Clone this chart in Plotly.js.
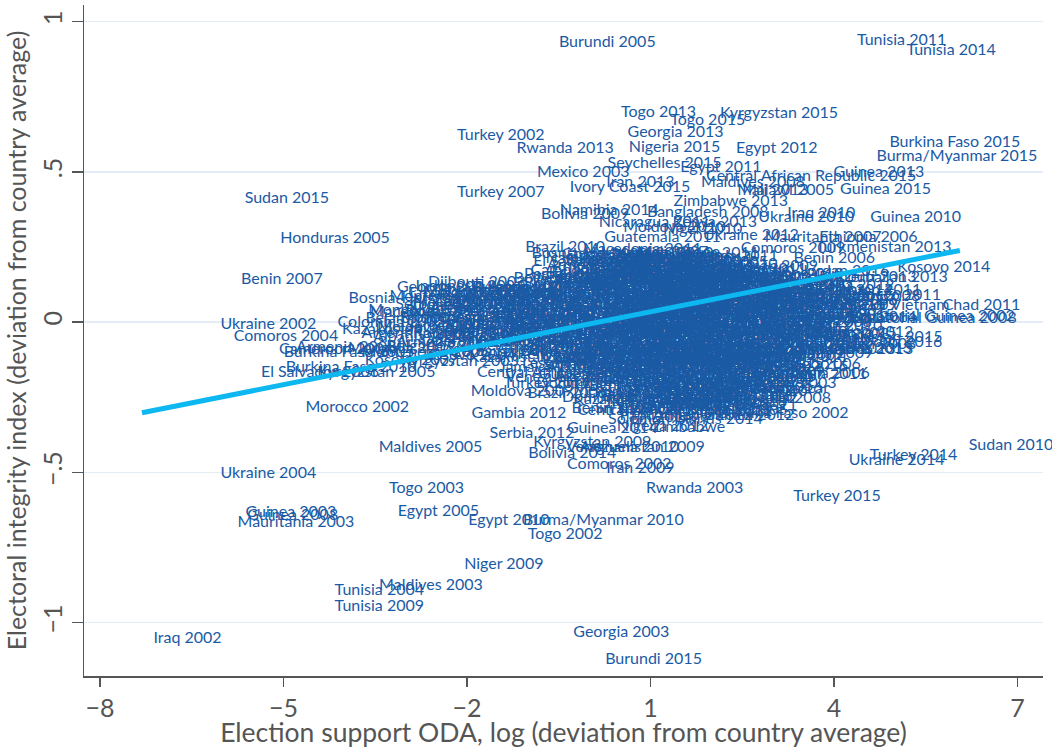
<!DOCTYPE html>
<html>
<head>
<meta charset="utf-8">
<script src="https://cdn.plot.ly/plotly-3.0.1.min.js"></script>
<style>
  html, body { margin: 0; padding: 0; background: #fff; }
  #chart { width: 1052px; height: 748px; }
</style>
</head>
<body>
<div id="chart"></div>
<script>
// Country-election observations: x = election support ODA (log, deviation from country mean),
// y = electoral integrity index (deviation from country mean).

// Isolated observations
const outerLabels = [
  "Burundi 2005", "Tunisia 2011", "Tunisia 2014", "Kyrgyzstan 2015", "Togo 2013",
  "Togo 2015", "Georgia 2013", "Turkey 2002", "Rwanda 2013", "Nigeria 2015",
  "Egypt 2012", "Burkina Faso 2015", "Burma/Myanmar 2015", "Seychelles 2015", "Mexico 2003",
  "Iran 2013", "Ivory Coast 2015", "Turkey 2007", "Sudan 2015", "Honduras 2005",
  "Benin 2007", "Ukraine 2002", "Comoros 2004", "Morocco 2002", "Maldives 2005",
  "Ukraine 2004", "Togo 2003", "Guinea 2003", "Guinea 2008", "Mauritania 2003",
  "Egypt 2005", "Egypt 2010", "Burma/Myanmar 2010", "Togo 2002", "Niger 2009",
  "Maldives 2003", "Tunisia 2004", "Tunisia 2009", "Iraq 2002", "Georgia 2003",
  "Burundi 2015", "Rwanda 2003", "Turkey 2015", "Ukraine 2014", "Turkey 2014",
  "Sudan 2010", "Benin 2011", "Gambia 2012", "Guinea 2010", "Guinea 2015",
  "Guinea 2013"
];
const outerX = [
  0.292, 5.103, 5.913, 3.100, 1.130,
  1.934, 1.409, -1.448, -0.397, 1.392,
  3.062, 5.974, 6.007, 1.228, -0.102,
  0.834, 0.662, -1.448, -4.946, -4.158,
  -5.028, -5.250, -4.962, -3.796, -2.598,
  -5.250, -2.663, -4.880, -4.850, -4.798,
  -2.470, -1.317, 0.227, -0.397, -1.400,
  -2.590, -3.435, -3.435, -6.571, 0.522,
  1.048, 1.720, 4.046, 5.021, 5.300,
  6.893, 3.872, -1.153, 5.333, 4.841,
  4.731
];
const outerY = [
  0.928, 0.934, 0.901, 0.691, 0.695,
  0.668, 0.629, 0.618, 0.575, 0.578,
  0.575, 0.595, 0.549, 0.525, 0.495,
  0.462, 0.445, 0.429, 0.410, 0.275,
  0.139, -0.010, -0.050, -0.285, -0.418,
  -0.506, -0.555, -0.636, -0.646, -0.669,
  -0.632, -0.662, -0.662, -0.708, -0.808,
  -0.877, -0.894, -0.947, -1.054, -1.034,
  -1.124, -0.555, -0.582, -0.462, -0.445,
  -0.412, -0.176, -0.306, 0.346, 0.438,
  0.495
];

// Observations along the edge of the main cluster
const edgeLabels = [
  "Namibia 2014", "Bolivia 2009", "Bangladesh 2008", "Zimbabwe 2013", "Nicaragua 2011",
  "Kenya 2013", "Moldova 2010", "Niger 2010", "Ukraine 2010", "Iraq 2010",
  "Guatemala 2011", "Ukraine 2012", "Brazil 2010", "Macedonia 2011", "Comoros 2009",
  "Bosnia-Herzegovina 2010", "El Salvador 2009", "Venezuela 2005", "Djibouti 2003", "Indonesia 2004",
  "Montenegro 2009", "Mongolia 2004", "Colombia 2002", "Argentina 2003", "Kosovo 2007",
  "Cameroon 2004", "Burkina Faso 2005", "Burkina Faso 2010", "El Salvador 2006", "Kyrgyzstan 2005",
  "Armenia 2003", "Mongolia 2005", "Jamaica 2007", "Turkey 2011", "Moldova 2009",
  "Brazil 2006", "Dominican Republic 2008", "Venezuela 2012", "Benin 2003", "Central African Republic 2005",
  "Armenia 2012", "Burkina Faso 2002", "Zambia 2011", "Mongolia 2008", "Madagascar",
  "Honduras", "Zimbabwe", "Nigeria 2012", "Guinea 2014", "Serbia 2012",
  "Kyrgyzstan 2009", "Venezuela 2010", "Afghanistan 2009", "Bolivia 2014", "Comoros 2002",
  "Iran 2009", "Kosovo 2014", "Azerbaijan 2013", "Turkmenistan 2013", "Mauritania 2007",
  "Ethiopia 2006", "Benin 2006", "Afghanistan 2014", "Tajikistan 2011", "Chad 2011",
  "Socialist Republic of Vietnam", "Equatorial Guinea 2008", "Equatorial Guinea 2002", "Georgia 2012", "Djibouti 2016",
  "Kosovo 2013", "Honduras 2013", "Ghana 2002", "Egypt 2011", "Maldives 2008",
  "Mali 2013", "Malawi 2005", "Central African Republic 2015"
];
const edgeX = [
  0.325, -0.069, 1.934, 2.312, 1.064,
  2.050, 1.390, 1.850, 3.544, 3.790,
  1.195, 2.640, -0.397, 0.867, 3.330,
  0.540, 0.046, -0.036, -1.842, -1.957,
  -2.220, -2.745, -3.238, -2.827, -2.910,
  -4.141, -3.928, -3.895, -4.404, -3.484,
  -3.977, -3.074, -0.693, -0.690, -1.103,
  -0.364, 1.030, -0.447, 0.374, 1.520,
  1.852, 3.166, 2.640, 3.080, 3.230,
  3.117, 1.620, 1.195, 0.374, -0.939,
  0.046, 0.540, 0.867, -0.280, 0.489,
  0.834, 5.793, 4.920, 4.810, 3.820,
  4.560, 4.003, 3.940, 4.560, 6.410,
  4.230, 5.630, 5.600, 4.510, 4.970,
  4.510, 4.400, 2.670, 2.148, 2.673,
  3.000, 3.248, 3.626
];
const edgeY = [
  0.369, 0.356, 0.362, 0.399, 0.329,
  0.329, 0.313, 0.305, 0.346, 0.359,
  0.279, 0.286, 0.246, 0.240, 0.243,
  0.226, 0.200, 0.140, 0.130, 0.116,
  0.083, 0.037, -0.003, -0.040, -0.130,
  -0.093, -0.103, -0.153, -0.170, -0.170,
  -0.086, -0.090, -0.153, -0.206, -0.233,
  -0.239, -0.253, -0.186, -0.289, -0.296,
  -0.312, -0.306, -0.279, -0.256, -0.223,
  -0.186, -0.352, -0.349, -0.356, -0.372,
  -0.402, -0.419, -0.419, -0.439, -0.475,
  -0.489, 0.180, 0.146, 0.246, 0.279,
  0.279, 0.209, 0.103, 0.103, 0.053,
  0.053, 0.010, 0.017, -0.037, -0.070,
  -0.090, -0.093, -0.120, 0.512, 0.462,
  0.435, 0.435, 0.482
];

// Observations inside the main cluster
const coreLabels = [
  "Ghana 2008", "Kenya 2007", "Malawi 2014", "Zambia 2006", "Nepal 2008", "Haiti 2006", "Liberia 2011", "Uganda 2011", "Peru 2006", "Mali 2007",
  "Armenia 2008", "Senegal 2012", "Georgia 2008", "Kosovo 2010", "Lebanon 2009", "Tanzania 2010", "Angola 2012", "Ethiopia 2010", "Guinea-Bissau 2009", "Cambodia 2008",
  "Paraguay 2008", "Ecuador 2006", "Sierra Leone 2007", "Mozambique 2009", "Philippines 2010", "Indonesia 2009", "Pakistan 2008", "Bangladesh 2014", "Sri Lanka 2010", "Albania 2009", "Azerbaijan 2010",
  "Bolivia 2005", "Peru 2011", "Honduras 2009", "Nicaragua 2008", "Guatemala 2007", "Ghana 2012", "Kenya 2005", "Malawi 2009", "Zambia 2008", "Niger 2011", "Chad 2006", "Yemen 2006",
  "Colombia 2006", "Mexico 2006", "Dominican Republic 2012", "Haiti 2010", "Jordan 2010", "Lebanon 2005", "Palestine 2006", "Iraq 2005", "Afghanistan 2005", "Nepal 2013", "Timor-Leste 2007", "Mongolia 2012", "Tajikistan 2006",
  "Costa Rica 2006", "Panama 2009", "Ecuador 2009", "Senegal 2007", "Cape Verde 2011", "Gabon 2009", "Congo 2009", "DR Congo 2011", "Cameroon 2011", "Ethiopia 2015", "Uganda 2006", "Tanzania 2015", "Burundi 2010", "Rwanda 2008", "Madagascar 2006",
  "Argentina 2007", "Brazil 2002", "Guyana 2006", "Jamaica 2011", "Peru 2016", "Paraguay 2013", "Honduras 2012", "Guatemala 2015", "Nicaragua 2016", "El Salvador 2014", "Belarus 2006", "Armenia 2007", "Azerbaijan 2005", "Kazakhstan 2005", "Kyrgyzstan 2007",
  "Indonesia 2014", "Philippines 2007", "Cambodia 2013", "Sri Lanka 2005", "Pakistan 2013", "India 2009", "Mongolia 2009", "Maldives 2014", "Bhutan 2008", "Timor-Leste 2012", "Solomon Islands 2010", "Fiji 2006", "Papua New Guinea 2007", "Vanuatu 2008", "Tonga 2010", "Samoa 2011",
  "Albania 2005", "Macedonia 2008", "Serbia 2008", "Montenegro 2012", "Bosnia-Herzegovina 2014", "Moldova 2014", "Ukraine 2006", "Belarus 2010", "Georgia 2016", "Armenia 2013", "Azerbaijan 2008", "Kazakhstan 2012", "Uzbekistan 2009", "Tajikistan 2013", "Kyrgyzstan 2010",
  "Morocco 2007", "Algeria 2009", "Algeria 2004", "Egypt 2014", "Libya 2012", "Jordan 2013", "Yemen 2012", "Iraq 2014", "Iran 2005", "Syria 2012", "Palestine 2005", "Lebanon 2010", "Mauritania 2009", "Mauritania 2014", "Djibouti 2008",
  "Benin 2015", "Togo 2007", "Ghana 2016", "Ivory Coast 2010", "Liberia 2005", "Sierra Leone 2012", "Gambia 2006", "Senegal 2014", "Mali 2002", "Burkina Faso 2012", "Niger 2004", "Nigeria 2007", "Cameroon 2007", "Chad 2016",
  "Kenya 2002", "Uganda 2016", "Tanzania 2005", "Rwanda 2010", "Ethiopia 2005", "Malawi 2004", "Zambia 2015", "Zimbabwe 2005", "Mozambique 2004", "Angola 2008", "Namibia 2009", "Botswana 2009",
  "Lesotho 2012", "Swaziland 2013", "Madagascar 2013", "Comoros 2010", "Mauritius 2014", "Seychelles 2011", "Cape Verde 2016", "Sao Tome 2010", "Gabon 2016", "Congo 2015", "DR Congo 2006",
  "Central African Republic 2011", "Guinea-Bissau 2005", "Liberia 2014", "Niger 2016", "Nigeria 2003", "Togo 2010", "Benin 2016", "Ghana 2004", "Gambia 2011", "Mali 2009", "Mauritania 2006",
  "Haiti 2015", "Dominican Republic 2016", "Guatemala 2003", "Nicaragua 2006", "Ecuador 2013", "Colombia 2010", "Venezuela 2015", "Bolivia 2006", "Paraguay 2003",
  "Mexico 2012", "Panama 2014", "Costa Rica 2010", "El Salvador 2012", "Belize 2008", "Guyana 2015", "Suriname 2010", "Jamaica 2016",
  "Kazakhstan 2007", "Tajikistan 2010", "Uzbekistan 2014", "Mongolia 2016", "Afghanistan 2010", "Pakistan 2002",
  "Sri Lanka 2015", "Maldives 2013", "Bhutan 2013", "Cambodia 2003", "Laos 2011",
  "Fiji 2014", "Solomon Islands 2014", "Papua New Guinea 2012",
  "Bosnia-Herzegovina 2002", "Macedonia 2002", "Serbia 2003", "Albania 2013", "Croatia 2003", "Romania 2004", "Bulgaria 2005", "Moldova 2005", "Georgia 2004", "Azerbaijan 2003", "Belarus 2004", "Kazakhstan 2004", "Montenegro 2006", "Kosovo 2004",
  "Algeria 2012", "Iraq 2009", "Libya 2014", "Egypt 2015", "Yemen 2003", "Jordan 2016", "Morocco 2011", "Mauritania 2013", "Djibouti 2013", "Tajikistan 2015", "Uzbekistan 2015", "Turkmenistan 2008",
  "Liberia 2009", "Sierra Leone 2002", "Guinea 2005", "Gambia 2016", "Senegal 2002", "Mali 2016", "Niger 2015", "Nigeria 2009", "Cameroon 2013", "Gabon 2006",
  "Congo 2012", "Angola 2016", "Zambia 2013", "Malawi 2011", "Mozambique 2014", "Tanzania 2012", "Kenya 2010", "Uganda 2008", "Ethiopia 2013", "Somalia 2016"
];
const coreX = [
  0.25, 0.61, 0.93, 1.18, 1.47, 1.72, 2.05, 2.31, 0.44, 1.36,
  0.12, 0.48, 0.77, 1.09, 1.41, 1.66, 1.98, 2.27, 2.58, 0.95,
  -0.21, 0.18, 0.55, 0.86, 1.22, 1.53, 1.87, 2.14, 2.49, 2.83, 3.21,
  -0.35, 0.03, 0.39, 0.71, 1.04, 1.33, 1.69, 2.02, 2.37, 2.71, 3.05, 3.39,
  -0.62, -0.18, 0.27, 0.62, 0.97, 1.29, 1.58, 1.91, 2.24, 2.61, 2.96, 3.33, 3.66,
  -1.52, -1.05, -0.47, 0.08, 0.45, 0.81, 1.13, 1.49, 1.83, 2.16, 2.52, 2.88, 3.27, 3.71, 4.02,
  -1.71, -1.22, -0.78, -0.31, 0.21, 0.58, 0.92, 1.25, 1.61, 1.95, 2.33, 2.67, 3.04, 3.46, 3.88,
  -1.95, -1.38, -0.93, -0.52, -0.07, 0.36, 0.74, 1.08, 1.42, 1.77, 2.11, 2.46, 2.83, 3.22, 3.61, 4.06,
  -1.61, -1.13, -0.66, -0.22, 0.19, 0.55, 0.89, 1.26, 1.58, 1.93, 2.29, 2.64, 3.01, 3.39, 3.82,
  -1.42, -0.87, -0.38, 0.05, 0.42, 0.79, 1.15, 1.51, 1.86, 2.19, 2.56, 2.93, 3.31, 3.72, 4.11,
  -1.18, -0.64, -0.15, 0.31, 0.68, 1.02, 1.37, 1.71, 2.07, 2.42, 2.78, 3.14, 3.55, 3.93,
  -0.49, -0.02, 0.44, 0.83, 1.19, 1.55, 1.89, 2.25, 2.61, 2.97, 3.36, 3.74,
  -0.31, 0.14, 0.57, 0.95, 1.31, 1.66, 2.01, 2.38, 2.74, 3.12, 3.51,
  -0.12, 0.33, 0.71, 1.09, 1.44, 1.79, 2.15, 2.52, 2.88, 3.27, 3.63,
  0.22, 0.61, 0.98, 1.35, 1.69, 2.06, 2.43, 2.81, 3.18,
  0.49, 0.87, 1.24, 1.58, 1.94, 2.31, 2.69, 3.02,
  0.73, 1.11, 1.46, 1.83, 2.21, 2.58,
  0.95, 1.32, 1.68, 2.04, 2.39,
  1.18, 1.57, 1.92,
  -2.45, -2.62, -2.31, -2.77, -2.18, -2.05, -2.52, -1.88, -2.36, -1.74, -2.90, -3.05, -2.68, -1.96,
  4.25, 4.48, 4.71, 4.36, 4.62, 4.18, 4.90, 4.05, 4.55, 4.12, 4.80, 4.30,
  0.66, 1.01, 1.38, 1.74, 2.12, 0.83, 1.19, 1.57, 1.93, 2.28,
  0.52, 0.94, 1.31, 1.69, 2.04, 0.71, 1.12, 1.48, 1.86, 2.22
];
const coreY = [
  0.224, 0.215, 0.228, 0.212, 0.221, 0.209, 0.226, 0.218, 0.205, 0.231,
  0.188, 0.196, 0.182, 0.193, 0.185, 0.199, 0.179, 0.191, 0.184, 0.176,
  0.158, 0.165, 0.152, 0.161, 0.149, 0.167, 0.155, 0.146, 0.162, 0.151, 0.157,
  0.128, 0.135, 0.122, 0.131, 0.126, 0.138, 0.119, 0.133, 0.124, 0.137, 0.121, 0.129,
  0.098, 0.104, 0.092, 0.107, 0.095, 0.101, 0.089, 0.106, 0.094, 0.099, 0.091, 0.103, 0.096,
  0.072, 0.065, 0.078, 0.069, 0.074, 0.061, 0.077, 0.066, 0.071, 0.063, 0.079, 0.068, 0.073, 0.064, 0.070,
  0.042, 0.036, 0.047, 0.031, 0.044, 0.038, 0.049, 0.033, 0.041, 0.035, 0.046, 0.039, 0.032, 0.045, 0.037,
  0.012, 0.004, 0.017, 0.008, 0.014, 0.002, 0.011, 0.019, 0.006, 0.013, 0.001, 0.016, 0.009, 0.015, 0.003, 0.010,
  -0.018, -0.026, -0.014, -0.022, -0.029, -0.016, -0.024, -0.012, -0.027, -0.019, -0.023, -0.015, -0.028, -0.021, -0.017,
  -0.048, -0.055, -0.043, -0.052, -0.046, -0.058, -0.041, -0.053, -0.049, -0.056, -0.044, -0.051, -0.047, -0.054, -0.042,
  -0.078, -0.085, -0.074, -0.082, -0.088, -0.076, -0.084, -0.079, -0.087, -0.073, -0.081, -0.086, -0.077, -0.083,
  -0.108, -0.115, -0.104, -0.112, -0.118, -0.106, -0.113, -0.102, -0.117, -0.109, -0.114, -0.105,
  -0.138, -0.145, -0.134, -0.142, -0.148, -0.136, -0.144, -0.132, -0.147, -0.139, -0.143,
  -0.168, -0.175, -0.163, -0.172, -0.178, -0.166, -0.174, -0.161, -0.177, -0.169, -0.173,
  -0.198, -0.205, -0.193, -0.202, -0.208, -0.196, -0.204, -0.191, -0.207,
  -0.228, -0.236, -0.224, -0.233, -0.239, -0.226, -0.234, -0.222,
  -0.258, -0.265, -0.254, -0.262, -0.268, -0.256,
  -0.288, -0.295, -0.284, -0.292, -0.298,
  -0.318, -0.325, -0.314,
  0.078, 0.031, -0.012, -0.054, 0.052, -0.038, -0.083, 0.098, 0.113, -0.067, 0.009, -0.027, -0.104, -0.112,
  0.121, 0.052, 0.014, -0.038, -0.076, 0.168, 0.087, -0.094, 0.146, 0.019, -0.052, 0.084,
  0.142, 0.117, 0.138, 0.112, 0.143, 0.057, 0.083, 0.052, 0.086, 0.054,
  -0.003, -0.037, 0.023, -0.033, 0.026, -0.094, -0.127, -0.098, -0.129, -0.091
];

// Further observations in the dense centre of the cluster
const fillLabels = [
  "Senegal 2009", "Ghana 2006", "Liberia 2016", "Guinea 2007", "Zambia 2010", "Uganda 2014", "Angola 2005", "Namibia 2004",
  "Cambodia 2007", "Nepal 2006", "Laos 2006", "Pakistan 2005", "Indonesia 2005", "Philippines 2013", "Bangladesh 2006", "India 2014", "Sri Lanka 2012", "Vietnam 2011",
  "Bolivia 2011", "Peru 2010", "Ecuador 2014", "Colombia 2014", "Guatemala 2012", "Honduras 2010", "Nicaragua 2012", "Haiti 2009", "El Salvador 2015", "Panama 2004", "Costa Rica 2014", "Paraguay 2016",
  "Jamaica 2005", "Guyana 2011", "Brazil 2014", "Argentina 2011", "Mexico 2009", "Dominican Republic 2004", "Cuba 2008", "Venezuela 2008", "Chile 2005", "Uruguay 2004", "Suriname 2005", "Belize 2012", "Trinidad 2007",
  "Albania 2011", "Serbia 2014", "Macedonia 2014", "Montenegro 2016", "Kosovo 2011", "Bosnia-Herzegovina 2006", "Moldova 2011", "Ukraine 2008", "Belarus 2012", "Georgia 2010", "Armenia 2009", "Azerbaijan 2013", "Kazakhstan 2011", "Kyrgyzstan 2012", "Tajikistan 2005",
  "Morocco 2016", "Algeria 2007", "Tunisia 2006", "Libya 2016", "Egypt 2008", "Jordan 2007", "Lebanon 2013", "Palestine 2012", "Syria 2007", "Iraq 2006", "Iran 2008", "Yemen 2009", "Sudan 2008", "Djibouti 2005", "Mauritania 2011",
  "Benin 2009", "Togo 2012", "Ghana 2010", "Ivory Coast 2005", "Liberia 2007", "Sierra Leone 2008", "Guinea 2012", "Gambia 2008", "Senegal 2010", "Mali 2012", "Burkina Faso 2014", "Niger 2007", "Nigeria 2014", "Cameroon 2009", "Chad 2009",
  "Kenya 2016", "Uganda 2012", "Tanzania 2008", "Rwanda 2015", "Burundi 2012", "Ethiopia 2008", "Malawi 2016", "Zambia 2004", "Zimbabwe 2010", "Mozambique 2011", "Angola 2014", "Namibia 2015", "Botswana 2014", "Lesotho 2007", "Swaziland 2008",
  "Madagascar 2009", "Comoros 2015", "Mauritius 2010", "Seychelles 2007", "Cape Verde 2006", "Sao Tome 2014", "Gabon 2011", "Congo 2007", "DR Congo 2015", "Central African Republic 2009", "Equatorial Guinea 2013", "Guinea-Bissau 2012", "Liberia 2012", "Niger 2013",
  "Haiti 2012", "Dominican Republic 2010", "Guatemala 2009", "Nicaragua 2014", "Ecuador 2011", "Colombia 2012", "Venezuela 2013", "Bolivia 2016", "Paraguay 2011", "Mexico 2015", "Panama 2012", "Costa Rica 2016", "El Salvador 2010",
  "Guyana 2008", "Jamaica 2013", "Kazakhstan 2009", "Tajikistan 2016", "Uzbekistan 2007", "Mongolia 2014", "Afghanistan 2012", "Pakistan 2010", "Sri Lanka 2008", "Maldives 2011", "Bhutan 2016", "Cambodia 2010",
  "Laos 2015", "Fiji 2009", "Solomon Islands 2006", "Papua New Guinea 2016", "Vanuatu 2012", "Timor-Leste 2016", "Indonesia 2011", "Philippines 2016", "Nepal 2016", "Bangladesh 2011",
  "Albania 2015", "Serbia 2016", "Macedonia 2016", "Montenegro 2013", "Kosovo 2016", "Moldova 2016", "Ukraine 2016", "Belarus 2015", "Georgia 2014", "Armenia 2016",
  "Azerbaijan 2015", "Morocco 2013", "Algeria 2016", "Egypt 2016", "Jordan 2005", "Lebanon 2015", "Iraq 2016", "Yemen 2015",
  "Benin 2012", "Togo 2016", "Ghana 2014", "Ivory Coast 2013", "Sierra Leone 2016", "Gambia 2014", "Senegal 2005",
  "Mali 2014", "Burkina Faso 2016", "Niger 2006", "Nigeria 2016", "Cameroon 2016", "Chad 2014",
  "Kenya 2015", "Uganda 2004", "Tanzania 2014", "Rwanda 2005",
  "Croatia 2007", "Romania 2008", "Bulgaria 2009", "Serbia 2005", "Macedonia 2005", "Albania 2007", "Montenegro 2003", "Bosnia-Herzegovina 2008", "Moldova 2003", "Ukraine 2003", "Georgia 2006", "Armenia 2005", "Azerbaijan 2006", "Kazakhstan 2003", "Kyrgyzstan 2003"
];
const fillX = [
  0.38, 0.79, 1.05, 1.31, 1.58, 1.89, 2.18, 0.09,
  -0.05, 0.33, 0.66, 1.01, 1.28, 1.57, 1.81, 2.09, 2.42, 2.73,
  -0.52, -0.12, 0.29, 0.63, 0.94, 1.27, 1.61, 1.94, 2.29, 2.62, 2.98, 3.32,
  -0.83, -0.41, -0.01, 0.43, 0.78, 1.12, 1.45, 1.78, 2.12, 2.47, 2.79, 3.15, 3.52,
  -1.28, -0.86, -0.31, 0.16, 0.53, 0.88, 1.21, 1.54, 1.87, 2.21, 2.57, 2.92, 3.28, 3.61, 3.95,
  -1.36, -0.93, -0.58, -0.12, 0.32, 0.69, 1.03, 1.37, 1.72, 2.04, 2.41, 2.77, 3.13, 3.52, 3.89,
  -1.49, -1.02, -0.63, -0.18, 0.27, 0.64, 0.99, 1.34, 1.68, 2.03, 2.38, 2.74, 3.12, 3.49, 3.91,
  -1.74, -1.19, -0.74, -0.33, 0.09, 0.47, 0.83, 1.17, 1.52, 1.86, 2.21, 2.57, 2.95, 3.32, 3.71,
  -1.28, -0.79, -0.41, 0.02, 0.37, 0.71, 1.06, 1.41, 1.76, 2.08, 2.45, 2.81, 3.18, 3.57,
  -0.96, -0.51, -0.08, 0.36, 0.73, 1.09, 1.44, 1.78, 2.13, 2.49, 2.86, 3.23, 3.62,
  -0.72, -0.26, 0.19, 0.58, 0.92, 1.27, 1.62, 1.97, 2.34, 2.69, 3.06, 3.44,
  -0.17, 0.27, 0.68, 1.04, 1.42, 1.77, 2.12, 2.49, 2.86, 3.24,
  0.05, 0.47, 0.84, 1.21, 1.57, 1.93, 2.28, 2.66, 3.03, 3.41,
  0.38, 0.79, 1.16, 1.52, 1.89, 2.26, 2.63, 3.00,
  0.66, 1.04, 1.41, 1.77, 2.14, 2.52, 2.88,
  0.88, 1.27, 1.64, 2.01, 2.39, 2.76,
  1.05, 1.43, 1.81, 2.18,
  -2.21, -1.63, -1.12, -2.48, -1.91, -1.37, -2.05, -1.52, -2.63, -1.18, -1.79, -2.34, -1.45, -0.98, -2.12
];
const fillY = [
  0.203, 0.208, 0.197, 0.211, 0.201, 0.206, 0.195, 0.209,
  0.171, 0.176, 0.168, 0.173, 0.166, 0.178, 0.169, 0.174, 0.167, 0.172,
  0.143, 0.148, 0.141, 0.147, 0.139, 0.144, 0.149, 0.142, 0.146, 0.140, 0.145, 0.138,
  0.113, 0.118, 0.109, 0.116, 0.111, 0.119, 0.114, 0.108, 0.117, 0.112, 0.115, 0.110, 0.116,
  0.083, 0.088, 0.081, 0.086, 0.079, 0.087, 0.082, 0.084, 0.080, 0.089, 0.085, 0.078, 0.086, 0.083, 0.081,
  0.053, 0.058, 0.051, 0.056, 0.059, 0.052, 0.055, 0.050, 0.057, 0.054, 0.058, 0.051, 0.055, 0.052, 0.056,
  0.024, 0.028, 0.021, 0.026, 0.019, 0.027, 0.023, 0.025, 0.020, 0.028, 0.022, 0.026, 0.021, 0.027, 0.024,
  -0.004, -0.008, -0.002, -0.006, -0.009, -0.003, -0.007, -0.001, -0.005, -0.008, -0.002, -0.006, -0.004, -0.009, -0.003,
  -0.034, -0.038, -0.031, -0.036, -0.039, -0.032, -0.037, -0.033, -0.038, -0.031, -0.035, -0.039, -0.032, -0.036,
  -0.064, -0.068, -0.061, -0.066, -0.069, -0.062, -0.067, -0.063, -0.068, -0.061, -0.065, -0.069, -0.063,
  -0.094, -0.098, -0.092, -0.097, -0.099, -0.093, -0.096, -0.091, -0.098, -0.094, -0.097, -0.092,
  -0.124, -0.128, -0.121, -0.126, -0.129, -0.122, -0.127, -0.123, -0.128, -0.121,
  -0.153, -0.158, -0.151, -0.156, -0.159, -0.152, -0.157, -0.154, -0.158, -0.151,
  -0.184, -0.188, -0.181, -0.186, -0.189, -0.182, -0.187, -0.183,
  -0.213, -0.218, -0.211, -0.216, -0.219, -0.212, -0.217,
  -0.244, -0.248, -0.241, -0.246, -0.249, -0.242,
  -0.273, -0.278, -0.271, -0.276,
  0.094, 0.105, 0.112, 0.058, 0.067, 0.089, 0.014, 0.032, -0.021, -0.009, -0.046, -0.071, -0.098, -0.121, -0.133
];

// Linear fit, evaluated at the ends of the x range of the data
const fitX = [-7.315, 6.056];
const fitY = [-0.3015, 0.2384];

// Axis ticks
const xTickVals = [-8, -5, -2, 1, 4, 7];
const xTickText = ["\u22128", "\u22125", "\u22122", "1", "4", "7"];
const yTickVals = [-1, -0.5, 0, 0.5, 1];
const yTickText = ["\u22121", "\u2212.5", "0", ".5", "1"];

const labelText = outerLabels.concat(edgeLabels, coreLabels, fillLabels);
const labelX = outerX.concat(edgeX, coreX, fillX);
const labelY = outerY.concat(edgeY, coreY, fillY);

const axisGray = "#555555";

const traces = [
  {
    type: "scatter",
    mode: "text",
    x: labelX,
    y: labelY,
    text: labelText,
    textposition: "middle center",
    textfont: { family: "Lato, 'Open Sans', sans-serif", size: 16, color: "#1a5aa5" },
    cliponaxis: false,
    hoverinfo: "skip",
    showlegend: false
  },
  {
    type: "scatter",
    mode: "lines",
    x: fitX,
    y: fitY,
    line: { color: "#0db7f0", width: 5 },
    hoverinfo: "skip",
    showlegend: false
  }
];

const layout = {
  width: 1052,
  height: 748,
  margin: { l: 84, r: 9, t: 5, b: 72 },
  paper_bgcolor: "#ffffff",
  plot_bgcolor: "#ffffff",
  font: { family: "Lato, 'Open Sans', sans-serif", color: axisGray },
  showlegend: false,
  xaxis: {
    range: [-8.263, 7.415],
    tickmode: "array",
    tickvals: xTickVals,
    ticktext: xTickText,
    ticks: "outside",
    ticklen: 9,
    tickwidth: 1.5,
    tickcolor: axisGray,
    tickfont: { size: 25, color: axisGray },
    showline: true,
    linecolor: axisGray,
    linewidth: 1.5,
    showgrid: false,
    zeroline: false,
    automargin: false,
    title: {
      text: "Election support ODA, log (deviation from country average)",
      font: { size: 26.5, color: axisGray },
      standoff: 2
    }
  },
  yaxis: {
    range: [-1.1775, 1.055],
    tickmode: "array",
    tickvals: yTickVals,
    ticktext: yTickText,
    tickangle: -90,
    ticks: "outside",
    ticklen: 11,
    tickwidth: 1.5,
    tickcolor: axisGray,
    tickfont: { size: 25, color: axisGray },
    showline: true,
    linecolor: axisGray,
    linewidth: 1.5,
    showgrid: true,
    gridcolor: "#e3edf8",
    gridwidth: 1.5,
    zeroline: false,
    automargin: false,
    title: {
      text: "Electoral integrity index (deviation from country average)",
      font: { size: 25, color: axisGray },
      standoff: 3
    }
  }
};

Plotly.newPlot("chart", traces, layout, { staticPlot: true, displayModeBar: false });
</script>
</body>
</html>
